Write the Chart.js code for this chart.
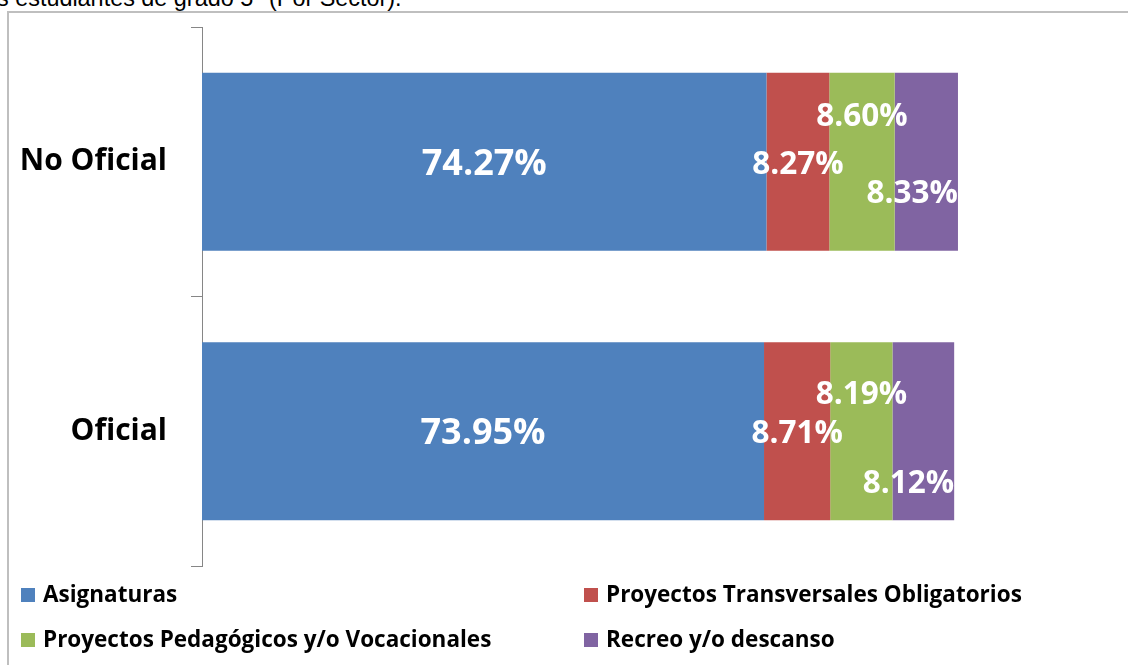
<!DOCTYPE html>
<html lang="es">
<head>
    <meta charset="UTF-8">
    <title>Distribución del tiempo escolar - grado 5° (Por Sector)</title>
    <script src="https://cdn.jsdelivr.net/npm/chart.js"></script>
    <style>
        html, body { margin: 0; padding: 0; background: #fff; overflow: hidden; }
        body { width: 1128px; height: 665px; position: relative; }
        .caption {
            position: absolute; left: -3px; top: -13px;
            font: 23.4px/22px "Liberation Sans", Arial, sans-serif; color: #000;
            white-space: nowrap;
        }
        .frame {
            position: absolute; left: 7px; top: 11px; width: 1400px; height: 900px;
            border: 2px solid #bfbfbf;
        }
        .chart-box { position: absolute; left: 0; top: 0; width: 1128px; height: 665px; }
    </style>
</head>
<body>
    <div class="caption">s estudiantes de grado 5° (Por Sector).</div>
    <div class="frame"></div>
    <div class="chart-box">
        <canvas id="sectorChart"></canvas>
    </div>

    <script>
        // datos
        const sectores = ['No Oficial', 'Oficial'];
        const series = ['Asignaturas', 'Proyectos Transversales Obligatorios', 'Proyectos Pedagógicos y/o Vocacionales', 'Recreo y/o descanso'];
        const asignaturas = [74.27, 73.95];
        const transversales = [8.27, 8.71];
        const pedagogicos = [8.60, 8.19];
        const recreo = [8.33, 8.12];

        const colores = ['#4F81BD', '#C0504D', '#9BBB59', '#8064A2'];
        // desplazamiento vertical de las etiquetas (movidas a mano en el original)
        const ajusteEtiquetas = [[0, 0], [1, 1], [-47, -38], [30, 51]];
        const tamEtiquetas = [36, 31.5, 31.5, 31.5];

        const labelPlugin = {
            id: 'etiquetas',
            afterDatasetsDraw(chart) {
                const ctx = chart.ctx;
                const n = chart.data.datasets.length;
                ctx.save();
                ctx.fillStyle = '#fff';
                ctx.textBaseline = 'alphabetic';
                chart.data.datasets.forEach((ds, i) => {
                    const meta = chart.getDatasetMeta(i);
                    const size = tamEtiquetas[i];
                    ctx.font = 'bold ' + size + 'px "Open Sans"';
                    meta.data.forEach((bar, j) => {
                        const p = bar.getProps(['x', 'y', 'base'], true);
                        const fin = chart.getDatasetMeta(n - 1).data[j].getProps(['x'], true).x;
                        const txt = ds.data[j].toFixed(2) + '%';
                        const w = ctx.measureText(txt).width;
                        let cx = (p.x + p.base) / 2;
                        if (cx + w / 2 > fin) cx = fin - w / 2;
                        const cy = p.y + ajusteEtiquetas[i][j];
                        ctx.textAlign = 'center';
                        ctx.fillText(txt, cx, cy + size * 0.714 / 2);
                    });
                });
                ctx.restore();
            }
        };

        const legendPlugin = {
            id: 'leyenda',
            afterDraw(chart) {
                const ctx = chart.ctx;
                const cols = [21, 584];
                const rows = [588, 633];
                ctx.save();
                ctx.font = 'bold 22.5px "Open Sans"';
                ctx.textAlign = 'left';
                ctx.textBaseline = 'alphabetic';
                chart.data.datasets.forEach((ds, i) => {
                    const x = cols[i % 2];
                    const y = rows[Math.floor(i / 2)];
                    ctx.fillStyle = ds.backgroundColor;
                    ctx.fillRect(x, y, 14, 14);
                    ctx.fillStyle = '#000';
                    ctx.fillText(ds.label, x + 22, y + 14);
                });
                ctx.restore();
            }
        };

        const valores = [asignaturas, transversales, pedagogicos, recreo];

        new Chart(document.getElementById('sectorChart'), {
            type: 'bar',
            data: {
                labels: sectores,
                datasets: series.map((s, i) => ({
                    label: s,
                    data: valores[i],
                    backgroundColor: colores[i],
                    barPercentage: 0.66,
                    categoryPercentage: 1
                }))
            },
            options: {
                indexAxis: 'y',
                responsive: true,
                maintainAspectRatio: false,
                animation: false,
                layout: { padding: { top: 27, right: 166, bottom: 99, left: 0 } },
                plugins: {
                    legend: { display: false },
                    tooltip: { enabled: false }
                },
                scales: {
                    x: { stacked: true, min: 0, max: 100, display: false },
                    y: {
                        stacked: true,
                        afterFit(scale) {
                            scale.width = 202;
                            scale.paddingTop = 0;
                            scale.paddingBottom = 0;
                        },
                        border: { display: true, color: '#868686', width: 1 },
                        grid: {
                            offset: true,
                            drawOnChartArea: false,
                            drawTicks: true,
                            tickLength: 11,
                            color: '#868686'
                        },
                        ticks: {
                            padding: 24,
                            color: '#000',
                            font: { family: '"Open Sans"', size: 30, weight: 'bold' }
                        }
                    }
                }
            },
            plugins: [labelPlugin, legendPlugin]
        });
    </script>
</body>
</html>
